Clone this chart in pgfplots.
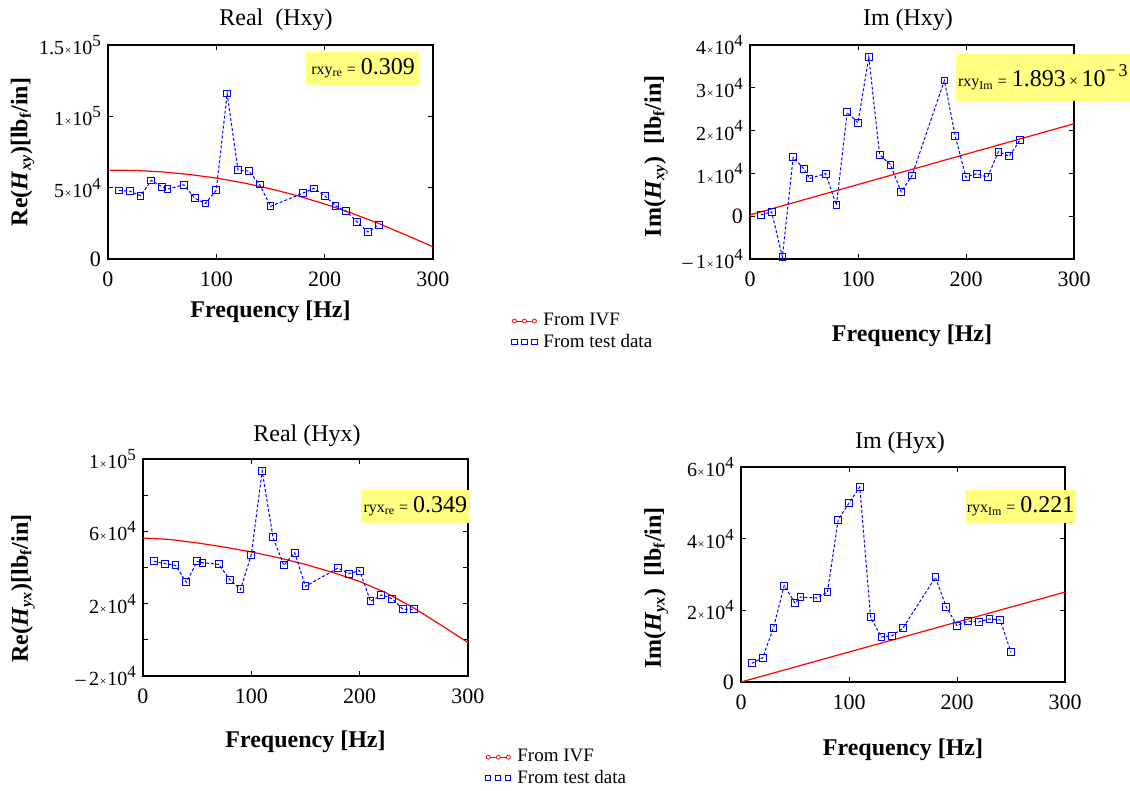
\documentclass[border=0pt]{standalone}
\usepackage{fontspec}
\setmainfont{Liberation Serif}
\usepackage{pgfplots}
\pgfplotsset{compat=1.18}

\definecolor{boxyellow}{RGB}{255,255,128}
% tick label like 5x10^4
\newcommand{\sci}[2]{{\fontsize{10}{10}\selectfont #1\kern0.4pt{\fontsize{6}{6}\selectfont ×}\kern0.4pt 10\raisebox{0.9ex}{\fontsize{8.5}{8.5}\selectfont #2}}}
\newcommand{\sm}{\fontsize{8}{8}\selectfont}
\newcommand{\bg}{\fontsize{12}{12}\selectfont}

\pgfplotsset{
  every axis title shift=0pt,
  panel/.style={
    scale only axis, clip=false, scaled y ticks=false,
    xmin=0, xmax=300, xtick={0,100,200,300},
    tick align=inside, major tick length=2.5pt,
    axis line style={line width=0.6pt},
    every tick/.style={black, line width=0.5pt},
    tick label style={font=\fontsize{11}{11}\selectfont},
    xticklabel style={yshift=-3pt},
    /pgf/number format/assume math mode=true,
    label style={font=\bfseries\fontsize{12}{12}\selectfont},
    title style={font=\fontsize{12}{12}\selectfont, at={(axis description cs:0.5,1)}, anchor=center},
    legend style={draw=none, fill=none, font=\fontsize{9.5}{9.5}\selectfont,
      row sep=0pt, inner sep=0pt, nodes={inner ysep=1.3pt, inner xsep=3pt}, anchor=north west},
    legend cell align=left,
  },
  ivf/.style={red, line width=0.6pt, no markers,
    legend image code/.code={
      \draw[red, solid, line width=0.5pt] (0pt,0pt) -- (10pt,0pt);
      \foreach \x in {0,5,10} \draw[red, solid, line width=0.4pt, fill=white] (\x pt,0pt) circle (1pt);
    }},
  test/.style={blue, line width=0.5pt, dash pattern=on 1.5pt off 1pt,
    mark=square, mark size=1.7pt, mark options={solid, line width=0.5pt},
    legend image code/.code={
      \foreach \x in {0,5,10} \draw[blue, solid, line width=0.45pt] (\x pt,0pt) ++(-1.3pt,-1.3pt) rectangle ++(2.6pt,2.6pt);
    }},
}

\begin{document}
\begin{tikzpicture}
\path[use as bounding box] (0,0) rectangle (565pt,-395.5pt);

% ---- Real (Hxy)
\begin{axis}[panel, at={(54pt,-129.5pt)}, anchor=south west,
  width=162.5pt, height=107pt,
  ymin=0, ymax=1.5e5, ytick={0,5e4,1e5,1.5e5},
  yticklabels={0,\sci{5}{4},\sci{1}{5},\sci{1.5}{5}},
  title={Real\ \ (Hxy)}, title style={yshift=12.5pt, xshift=2.75pt},
  xlabel={Frequency [Hz]}, xlabel style={at={(axis description cs:0.5,-0.2477)}, anchor=center},
  ylabel={Re(\textit{H}\textsubscript{\textit{xy}})[lb\textsubscript{f}/in]},
  ylabel style={at={(axis description cs:-0.263,0.5)}, anchor=center},
  legend style={at={(axis description cs:1.24,-0.24)}},
]
\addplot[ivf] coordinates {(0,62300)(25,62070)(50,61060)(75,59270)(100,56700)(125,53350)(150,49210)(175,44300)(200,38600)(225,32120)(250,24860)(275,16820)(300,8600)};
\addplot[test] coordinates {(10,48060)(20,47600)(30,44330)(40,55070)(50,50630)(55,49000)(70,52030)(80,42700)(90,38960)(100,48300)(110,115950)(120,62300)(130,61600)(140,52270)(150,36870)(180,46200)(190,49470)(200,44330)(210,37330)(220,33370)(230,25900)(240,18900)(250,24030)};
\legend{From IVF, From test data}
\node[fill=boxyellow, minimum width=57pt, minimum height=16.5pt, inner sep=1pt] at (rel axis cs:0.785,0.890) {{\sm rxy\textsubscript{re} =} {\bg 0.309}};
\end{axis}

% ---- Im (Hxy)
\begin{axis}[panel, at={(375pt,-129.5pt)}, anchor=south west,
  width=162pt, height=107pt,
  ymin=-1e4, ymax=4e4, ytick={-1e4,0,1e4,2e4,3e4,4e4},
  yticklabels={\sci{–\,1}{4},0,\sci{1}{4},\sci{2}{4},\sci{3}{4},\sci{4}{4}},
  title={Im (Hxy)}, title style={yshift=12.5pt, xshift=-2pt},
  xlabel={Frequency [Hz]}, xlabel style={at={(axis description cs:0.5,-0.36)}, anchor=center},
  ylabel={Im(\textit{H}\textsubscript{\textit{xy}})\ \ [lb\textsubscript{f}/in]},
  ylabel style={at={(axis description cs:-0.290,0.48)}, anchor=center},
]
\addplot[ivf] coordinates {(0,300)(300,21600)};
\addplot[test] coordinates {(10,311)(20,1011)(30,-9500)(40,13760)(50,11040)(55,8790)(70,9950)(80,2570)(90,24260)(100,21850)(110,37250)(120,14390)(130,12050)(140,5680)(150,9490)(180,31730)(190,18740)(200,9100)(210,9950)(220,9100)(230,15090)(240,14000)(250,17810)};
\node[fill=boxyellow, minimum width=85pt, minimum height=23.5pt, inner sep=1pt] at (rel axis cs:0.904,0.848) {{\sm rxy\textsubscript{Im} =} {\bg 1.893}\,{\sm ×}\,{\bg 10}\raisebox{1.1ex}{\fontsize{9}{9}\selectfont −\,3}};
\end{axis}

% ---- Real (Hyx)
\begin{axis}[panel, at={(71.5pt,-338pt)}, anchor=south west,
  width=162.5pt, height=108.5pt,
  ymin=-2e4, ymax=1e5, ytick={-2e4,0,2e4,4e4,6e4,8e4,1e5},
  yticklabels={\sci{–\,2}{4},{},\sci{2}{4},{},\sci{6}{4},{},\sci{1}{5}},
  title={Real (Hyx)}, title style={yshift=11.5pt, xshift=0.75pt},
  xlabel={Frequency [Hz]}, xlabel style={at={(axis description cs:0.5,-0.304)}, anchor=center},
  ylabel={Re(\textit{H}\textsubscript{\textit{yx}})[lb\textsubscript{f}/in]},
  ylabel style={at={(axis description cs:-0.369,0.403)}, anchor=center},
  legend style={at={(axis description cs:1.052,-0.325)}},
]
\addplot[ivf] coordinates {(0,56300)(25,55500)(50,53600)(75,51300)(100,48600)(125,45400)(150,41700)(175,37300)(200,32300)(225,25800)(250,17600)(275,8200)(300,-1500)};
\addplot[test] coordinates {(10,43410)(20,42120)(30,41200)(40,31800)(50,43410)(55,42670)(70,41750)(80,33270)(90,27930)(100,47100)(110,93360)(120,56680)(130,41200)(140,48200)(150,29590)(180,39720)(190,36590)(200,38250)(210,21290)(220,24790)(230,22760)(240,16870)(250,16870)};
\legend{From IVF, From test data}
\node[fill=boxyellow, minimum width=54.5pt, minimum height=16.5pt, inner sep=1pt] at (rel axis cs:0.838,0.781) {{\sm ryx\textsubscript{re} =} {\bg 0.349}};
\end{axis}

% ---- Im (Hyx)
\begin{axis}[panel, at={(370.5pt,-341pt)}, anchor=south west,
  width=162pt, height=107.5pt,
  ymin=0, ymax=6e4, ytick={0,2e4,4e4,6e4},
  yticklabels={0,\sci{2}{4},\sci{4}{4},\sci{6}{4}},
  title={Im (Hyx)}, title style={yshift=12pt, xshift=-1.5pt},
  xlabel={Frequency [Hz]}, xlabel style={at={(axis description cs:0.5,-0.316)}, anchor=center},
  ylabel={Im(\textit{H}\textsubscript{\textit{yx}})\ \ [lb\textsubscript{f}/in]},
  ylabel style={at={(axis description cs:-0.262,0.437)}, anchor=center},
]
\addplot[ivf] coordinates {(0,0)(300,25100)};
\addplot[test] coordinates {(10,5210)(20,6700)(30,15070)(40,26880)(50,22050)(55,23720)(70,23440)(80,25020)(90,45300)(100,49950)(110,54420)(120,18050)(130,12560)(140,12930)(150,15070)(180,29210)(190,21020)(200,15720)(210,17020)(220,16740)(230,17580)(240,17300)(250,8280)};
\node[fill=boxyellow, minimum width=54.5pt, minimum height=16.5pt, inner sep=1pt] at (rel axis cs:0.863,0.816) {{\sm ryx\textsubscript{Im} =} {\bg 0.221}};
\end{axis}
\end{tikzpicture}
\end{document}
